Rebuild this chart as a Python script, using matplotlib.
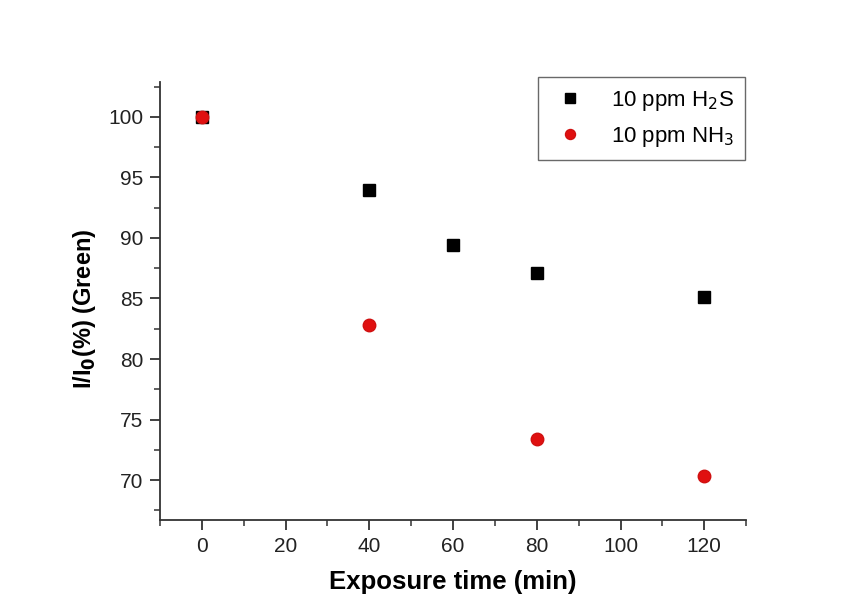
import matplotlib
matplotlib.use("Agg")
import matplotlib.pyplot as plt
from matplotlib.ticker import MultipleLocator

plt.rcParams['font.family'] = ['Liberation Sans', 'DejaVu Sans']

time_h2s = [0, 40, 60, 80, 120]
resp_h2s = [100.0, 94.0, 89.4, 87.1, 85.1]
time_nh3 = [0, 40, 80, 120]
resp_nh3 = [100.0, 82.8, 73.4, 70.3]

fig = plt.figure(figsize=(8.46, 6.07), dpi=100)
ax = fig.add_axes([0.189, 0.1433, 0.693, 0.722])

ax.plot(time_h2s, resp_h2s, linestyle='none', marker='s', color='black',
        markersize=8.5, label='10 ppm H$_2$S')
ax.plot(time_nh3, resp_nh3, linestyle='none', marker='o', color='#e01010',
        markeredgecolor='#d01010', markersize=9, label='10 ppm NH$_3$')

ax.set_xlim(-10, 130)
ax.set_ylim(66.7, 102.9)
ax.xaxis.set_major_locator(MultipleLocator(20))
ax.xaxis.set_minor_locator(MultipleLocator(10))
ax.yaxis.set_major_locator(MultipleLocator(5))
ax.yaxis.set_minor_locator(MultipleLocator(2.5))

for s in ['top', 'right']:
    ax.spines[s].set_visible(False)
for s in ['left', 'bottom']:
    ax.spines[s].set_linewidth(1.3)
    ax.spines[s].set_color('#333333')

ax.tick_params(which='major', direction='out', length=7, width=1.3,
               labelsize=15, colors='#333333', labelcolor='#222222', pad=5)
ax.tick_params(which='minor', direction='out', length=4, width=1.1,
               colors='#333333')

ax.set_xlabel('Exposure time (min)', fontsize=18.5, fontweight='bold', labelpad=10)
ax.set_ylabel('I/I$_\\mathbf{0}$(%) (Green)', fontsize=17, fontweight='bold')
ax.yaxis.set_label_coords(-0.106, 0.482)

leg = ax.legend(loc='upper right', bbox_to_anchor=(1.006, 1.02), fontsize=16,
                frameon=True, fancybox=False, edgecolor='#444444',
                markerscale=0.8, handlelength=1.9, handletextpad=0.9,
                borderpad=0.5, labelspacing=0.55, borderaxespad=0.2)
leg.get_frame().set_linewidth(1.0)

fig.savefig('out.png', dpi=100)
